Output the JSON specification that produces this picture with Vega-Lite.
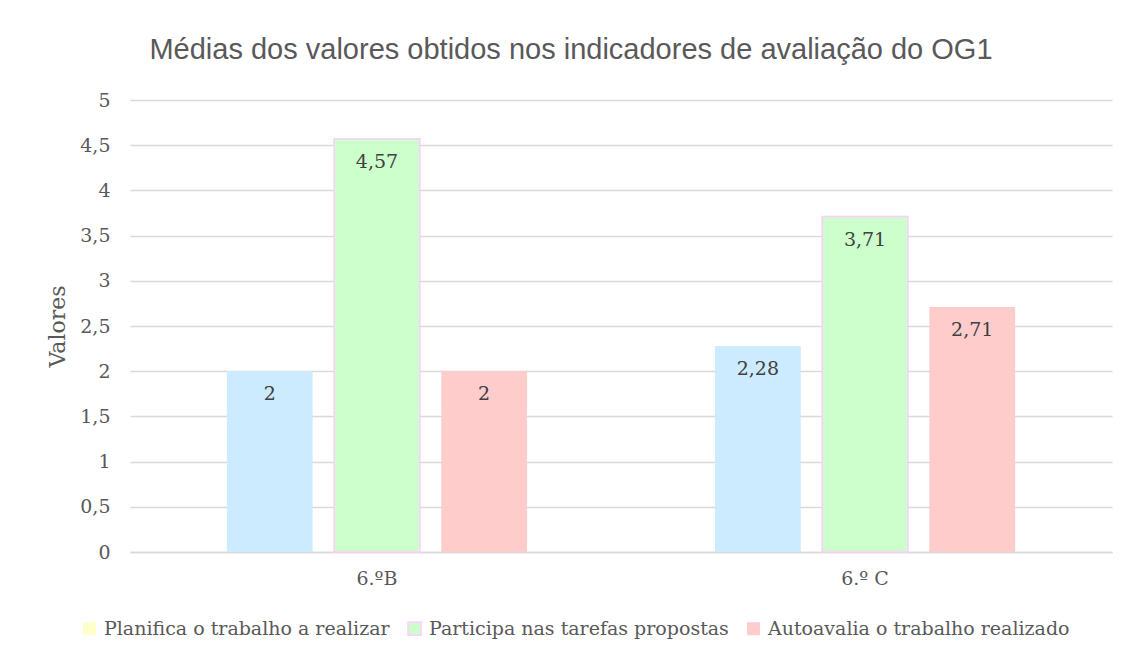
{
  "$schema": "https://vega.github.io/schema/vega-lite/v6.json",
  "width": 982,
  "height": 452,
  "autosize": {"type": "none"},
  "padding": {"left": 130, "top": 100, "right": 18, "bottom": 114},
  "background": "white",
  "title": {
    "text": "Médias dos valores obtidos nos indicadores de avaliação do OG1",
    "font": "Liberation Sans",
    "fontSize": 29,
    "fontWeight": "normal",
    "color": "#595959",
    "anchor": "middle",
    "dx": -50,
    "offset": 26
  },
  "data": {
    "values": [
      {"turma": "6.ºB", "serie": "Planifica o trabalho a realizar", "valor": 2, "rotulo": "2"},
      {"turma": "6.ºB", "serie": "Participa nas tarefas propostas", "valor": 4.57, "rotulo": "4,57"},
      {"turma": "6.ºB", "serie": "Autoavalia o trabalho realizado", "valor": 2, "rotulo": "2"},
      {"turma": "6.º C", "serie": "Planifica o trabalho a realizar", "valor": 2.28, "rotulo": "2,28"},
      {"turma": "6.º C", "serie": "Participa nas tarefas propostas", "valor": 3.71, "rotulo": "3,71"},
      {"turma": "6.º C", "serie": "Autoavalia o trabalho realizado", "valor": 2.71, "rotulo": "2,71"}
    ]
  },
  "encoding": {
    "x": {
      "field": "turma",
      "type": "nominal",
      "sort": null,
      "scale": {"paddingInner": 0.385, "paddingOuter": 0.1985},
      "axis": {
        "title": null,
        "labelAngle": 0,
        "labelFont": "DejaVu Serif",
        "labelFontSize": 19,
        "labelColor": "#595959",
        "labelPadding": 17,
        "ticks": false,
        "domainColor": "#d9d9d9",
        "domainWidth": 1.5
      }
    },
    "xOffset": {
      "field": "serie",
      "type": "nominal",
      "sort": null,
      "scale": {"paddingInner": 0.2, "paddingOuter": 0}
    },
    "y": {
      "field": "valor",
      "type": "quantitative",
      "scale": {"domain": [0, 5]},
      "axis": {
        "title": "Valores",
        "titleFont": "DejaVu Serif",
        "titleFontSize": 22,
        "titleFontWeight": "normal",
        "titleColor": "#595959",
        "titlePadding": 10,
        "values": [0, 0.5, 1, 1.5, 2, 2.5, 3, 3.5, 4, 4.5, 5],
        "labelExpr": "replace(format(datum.value, ''), '.', ',')",
        "labelFont": "DejaVu Serif",
        "labelFontSize": 19,
        "labelColor": "#595959",
        "labelPadding": 20,
        "ticks": false,
        "domain": false,
        "gridColor": "#d9d9d9",
        "gridWidth": 1.5
      }
    }
  },
  "layer": [
    {
      "mark": {"type": "bar", "strokeWidth": 1.5},
      "encoding": {
        "fill": {
          "field": "serie",
          "type": "nominal",
          "sort": null,
          "scale": {
            "domain": ["Planifica o trabalho a realizar", "Participa nas tarefas propostas", "Autoavalia o trabalho realizado"],
            "range": ["#CCEBFF", "#CCFFCC", "#FFCCCC"]
          },
          "legend": null
        },
        "stroke": {
          "field": "serie",
          "type": "nominal",
          "sort": null,
          "scale": {
            "domain": ["Planifica o trabalho a realizar", "Participa nas tarefas propostas", "Autoavalia o trabalho realizado"],
            "range": ["transparent", "#FFCCFF", "transparent"]
          },
          "legend": null
        }
      }
    },
    {
      "mark": {
        "type": "text",
        "baseline": "top",
        "dy": 14,
        "font": "DejaVu Serif",
        "fontSize": 19,
        "color": "#404040"
      },
      "encoding": {
        "text": {"field": "rotulo"}
      }
    },
    {
      "transform": [{"filter": "false"}],
      "mark": {"type": "square", "filled": true, "opacity": 1, "strokeWidth": 1.5},
      "encoding": {
        "color": {
          "field": "serie",
          "type": "nominal",
          "sort": null,
          "scale": {
            "domain": ["Planifica o trabalho a realizar", "Participa nas tarefas propostas", "Autoavalia o trabalho realizado"],
            "range": ["#FFFFCC", "#CCFFCC", "#FFCCCC"]
          },
          "legend": {
            "title": null,
            "orient": "none",
            "legendX": -50,
            "legendY": 519,
            "direction": "horizontal",
            "symbolType": "square",
            "symbolSize": 169,
            "symbolStrokeWidth": 1.5,
            "symbolOpacity": 1,
            "labelFont": "DejaVu Serif",
            "labelFontSize": 19,
            "labelColor": "#595959",
            "labelLimit": 0,
            "labelOffset": 5,
            "columnPadding": 15
          }
        },
        "stroke": {
          "field": "serie",
          "type": "nominal",
          "sort": null,
          "scale": {
            "domain": ["Planifica o trabalho a realizar", "Participa nas tarefas propostas", "Autoavalia o trabalho realizado"],
            "range": ["transparent", "#FFCCFF", "transparent"]
          },
          "legend": {
            "title": null,
            "orient": "none",
            "legendX": -50,
            "legendY": 519,
            "direction": "horizontal",
            "symbolType": "square",
            "symbolSize": 169,
            "symbolStrokeWidth": 1.5,
            "symbolOpacity": 1,
            "labelFont": "DejaVu Serif",
            "labelFontSize": 19,
            "labelColor": "#595959",
            "labelLimit": 0,
            "labelOffset": 5,
            "columnPadding": 15
          }
        }
      }
    }
  ],
  "resolve": {"scale": {"color": "independent", "stroke": "independent"}},
  "config": {
    "view": {"stroke": null}
  }
}
